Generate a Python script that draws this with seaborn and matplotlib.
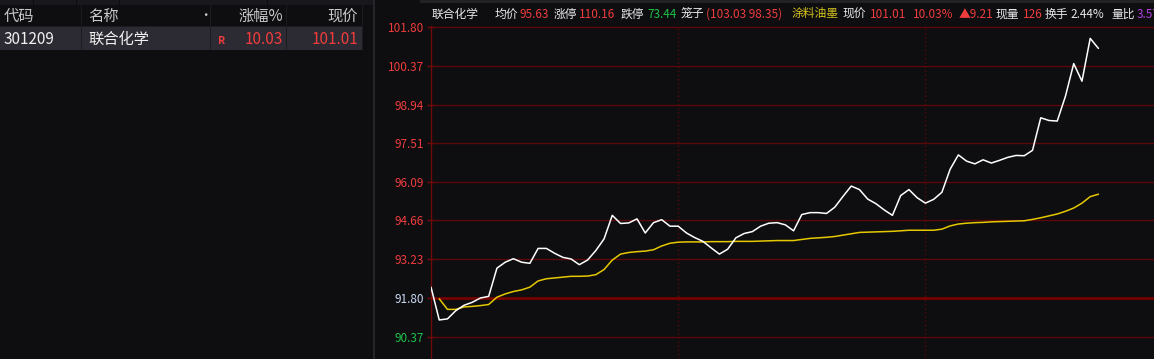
import numpy as np
import pandas as pd
import seaborn as sns
import matplotlib
matplotlib.use("Agg")
import matplotlib.pyplot as plt
from matplotlib.patches import Rectangle

# ---------------- data ----------------
price = [92.20, 90.99, 91.03, 91.33, 91.53, 91.64, 91.80, 91.86, 92.90, 93.12,
         93.25, 93.12, 93.08, 93.63, 93.63, 93.45, 93.30, 93.24, 93.03, 93.20,
         93.55, 93.98, 94.85, 94.55, 94.57, 94.72, 94.20, 94.58, 94.69, 94.45,
         94.45, 94.20, 94.03, 93.89, 93.65, 93.42, 93.60, 94.02, 94.18, 94.25,
         94.45, 94.56, 94.58, 94.50, 94.28, 94.88, 94.95, 94.95, 94.92, 95.15,
         95.55, 95.93, 95.80, 95.45, 95.28, 95.05, 94.85, 95.58, 95.80, 95.50,
         95.30, 95.44, 95.70, 96.55, 97.08, 96.85, 96.75, 96.90, 96.78, 96.88,
         96.99, 97.06, 97.05, 97.25, 98.45, 98.35, 98.33, 99.25, 100.45, 99.80,
         101.38, 101.01]
avg = [np.nan, 91.77, 91.38, 91.38, 91.47, 91.49, 91.52, 91.56, 91.83, 91.95,
       92.04, 92.10, 92.20, 92.43, 92.51, 92.54, 92.57, 92.60, 92.60, 92.61,
       92.66, 92.85, 93.20, 93.42, 93.48, 93.51, 93.53, 93.58, 93.72, 93.82,
       93.86, 93.87, 93.87, 93.87, 93.88, 93.88, 93.88, 93.89, 93.89, 93.89,
       93.90, 93.91, 93.92, 93.92, 93.92, 93.96, 94.00, 94.02, 94.04, 94.07,
       94.12, 94.17, 94.22, 94.23, 94.24, 94.25, 94.26, 94.28, 94.30, 94.30,
       94.30, 94.30, 94.34, 94.46, 94.53, 94.56, 94.58, 94.59, 94.61, 94.62,
       94.63, 94.64, 94.65, 94.70, 94.76, 94.83, 94.90, 95.00, 95.12, 95.30,
       95.54, 95.63]
ytick_vals = [90.37, 91.80, 93.23, 94.66, 96.09, 97.51, 98.94, 100.37, 101.80]
ytick_labels = ["90.37", "91.80", "93.23", "94.66", "96.09", "97.51", "98.94", "100.37", "101.80"]
prev_close = 91.80
hour_marks = [30, 60]

# table texts
table_header = ["代码", "名称", "涨幅%", "现价"]
row_code, row_name, row_pct, row_price = "301209", "联合化学", "10.03", "101.01"

# header segments (text, color, x)
header_parts = [
    ("联合化学", "#e8e8e8", 432), ("均价", "#e8e8e8", 495), ("95.63", "#f03c3c", 520),
    ("涨停", "#e8e8e8", 554), ("110.16", "#f03c3c", 579), ("跌停", "#e8e8e8", 621),
    ("73.44", "#1fc24a", 647), ("笼子", "#e8e8e8", 681), ("(103.03 98.35)", "#f03c3c", 706),
    ("涂料油墨", "#d6c31c", 792), ("现价", "#e8e8e8", 843), ("101.01", "#f03c3c", 870),
    ("10.03%", "#f03c3c", 913), ("▲9.21", "#f03c3c", 959), ("现量", "#e8e8e8", 996),
    ("126", "#f03c3c", 1023), ("换手", "#e8e8e8", 1045), ("2.44%", "#e8e8e8", 1070),
    ("量比", "#e8e8e8", 1111), ("3.57", "#b040e0", 1137),
]

df = pd.DataFrame({"idx": np.arange(len(price)), "price": price, "avg": avg})

# ---------------- style ----------------
BG = "#0e0e11"
sns.set_theme(style="dark", rc={"axes.facecolor": BG, "figure.facecolor": BG})
plt.rcParams["font.family"] = ["Noto Sans CJK SC", "DejaVu Sans"]

W, H = 1154, 359
fig = plt.figure(figsize=(W / 100, H / 100), dpi=100)
fig.patch.set_facecolor(BG)

def fx(x):
    return x / W

def fy(y):
    return 1 - y / H

def rect(x0, y0, x1, y1, color, z=0):
    fig.patches.append(Rectangle((fx(x0), fy(y1)), fx(x1) - fx(x0), fy(y0) - fy(y1),
                                 transform=fig.transFigure, facecolor=color,
                                 edgecolor="none", zorder=z))

# ---------------- left table ----------------
rect(0, 0, 374, 5, "#18181c")
rect(420, 0, W, 3, "#222226")
for xs in [33, 76, 119, 267]:
    rect(xs, 0, xs + 1, 5, "#0a0a0c", 1)
rect(0, 27, 362, 50, "#2c2b33")
for xs in [81, 210, 286, 362]:
    rect(xs, 5, xs + 1, 50, "#1c1c20", 1)
rect(0, 26, 362, 27, "#1c1c20", 1)
rect(373, 0, 375, H, "#26262a", 1)

tfs = 11
fig.text(fx(4), fy(16), table_header[0], color="#c8c8c8", fontsize=tfs, va="center", ha="left")
fig.text(fx(88), fy(16), table_header[1], color="#c8c8c8", fontsize=tfs, va="center", ha="left")
fig.text(fx(205), fy(16), "•", color="#c8c8c8", fontsize=9, va="center", ha="center")
fig.text(fx(283), fy(16), table_header[2], color="#c8c8c8", fontsize=tfs, va="center", ha="right")
fig.text(fx(358), fy(16), table_header[3], color="#c8c8c8", fontsize=tfs, va="center", ha="right")
fig.text(fx(4), fy(39), row_code, color="#f0f0f0", fontsize=tfs, va="center", ha="left")
fig.text(fx(88), fy(39), row_name, color="#f0f0f0", fontsize=tfs, va="center", ha="left")
fig.text(fx(218), fy(41), "R", color="#f03c3c", fontsize=7.5, fontweight="bold", va="center", ha="left")
fig.text(fx(283), fy(39), row_pct, color="#f03c3c", fontsize=tfs, va="center", ha="right")
fig.text(fx(358), fy(39), row_price, color="#f03c3c", fontsize=tfs, va="center", ha="right")

# ---------------- header line ----------------
for txt, col, xpos in header_parts:
    fig.text(fx(xpos), fy(14), txt, color=col, fontsize=8.5, va="center", ha="left")

# ---------------- chart ----------------
ax_left, ax_top = 431, 26
ax = fig.add_axes([fx(ax_left), 0, fx(W - ax_left), fy(ax_top)])
ax.set_facecolor(BG)
step = 8.24
ax.set_xlim(0, (W - ax_left) / step)
ppu = 27.1
ax.set_ylim(prev_close - (H - 298) / ppu, 101.80 + 1 / ppu)

for v in ytick_vals:
    if v == prev_close:
        ax.axhline(v, color="#760000", lw=2.0, zorder=1)
    else:
        ax.axhline(v, color="#5c0808", lw=1.0, zorder=1)
for m in hour_marks:
    ax.axvline(m, color="#5c0808", lw=1.0, ls=(0, (1, 2)), zorder=1)

sns.lineplot(data=df, x="idx", y="avg", ax=ax, color="#e6c800", lw=1.1, zorder=3)
sns.lineplot(data=df, x="idx", y="price", ax=ax, color="#ffffff", lw=1.1, zorder=4)

ax.set_yticks(ytick_vals)
ax.set_yticklabels(ytick_labels)
ax.set_xticks([])
ax.set_xlabel("")
ax.set_ylabel("")
ax.grid(False)
for s in ["top", "right", "bottom"]:
    ax.spines[s].set_visible(False)
ax.spines["left"].set_color("#6e0a0a")
ax.spines["left"].set_linewidth(1.0)
ax.tick_params(axis="y", direction="inout", length=6, width=1, color="#7a0a0a",
               pad=2, labelsize=8.5, left=True)
for lab, v in zip(ax.get_yticklabels(), ytick_vals):
    if v > prev_close:
        lab.set_color("#f03c3c")
    elif v < prev_close:
        lab.set_color("#1fc24a")
    else:
        lab.set_color("#c9d8f0")

fig.savefig("out.png", dpi=100, facecolor=BG)
